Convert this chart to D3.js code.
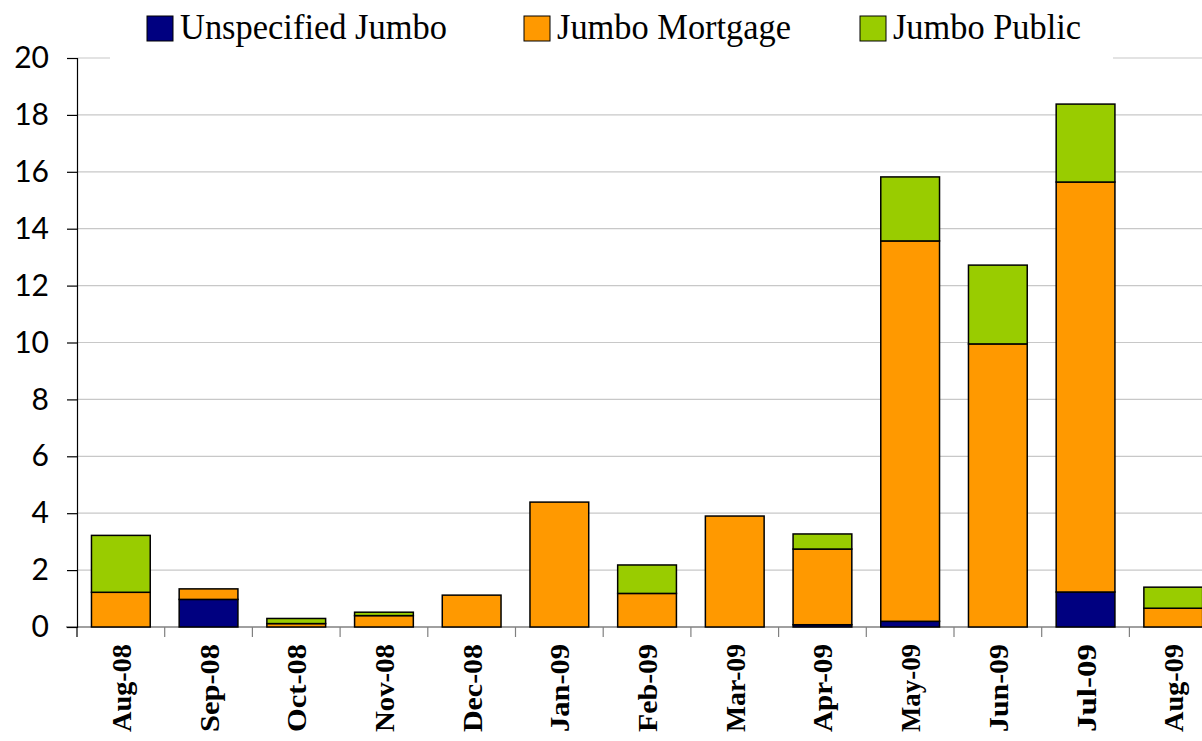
<!DOCTYPE html>
<html>
<head>
<meta charset="utf-8">
<script src="https://cdn.jsdelivr.net/npm/d3@7"></script>
<style>
  body { margin: 0; background: #fff; }
  svg { display: block; }
</style>
</head>
<body>
<div class="chartsWrapper"></div>
<script>
// months on the x axis
var months = ['Aug-08', 'Sep-08', 'Oct-08', 'Nov-08', 'Dec-08', 'Jan-09', 'Feb-09',
              'Mar-09', 'Apr-09', 'May-09', 'Jun-09', 'Jul-09', 'Aug-09'];

// stacked series, bottom to top
var unspecifiedJumbo = [0, 0.97, 0, 0, 0, 0, 0, 0, 0.08, 0.2, 0, 1.23, 0];
var jumboMortgage    = [1.22, 0.37, 0.12, 0.4, 1.12, 4.39, 1.18, 3.9, 2.66, 13.37, 9.95, 14.41, 0.66];
var jumboPublic      = [2.0, 0, 0.18, 0.12, 0, 0, 1.0, 0, 0.53, 2.25, 2.77, 2.74, 0.74];

var seriesNames = ['Unspecified Jumbo', 'Jumbo Mortgage', 'Jumbo Public'];
var seriesColors = ['#000080', '#ff9900', '#99cc00'];
var yTicks = [0, 2, 4, 6, 8, 10, 12, 14, 16, 18, 20];

var width = 1202, height = 741;

var svg = d3.select('.chartsWrapper').append('svg')
    .attr('width', width)
    .attr('height', height);

// plot runs past the right edge of the picture, like the original
var x = d3.scaleBand()
    .domain(months)
    .range([77, 77 + 13 * 87.7])
    .paddingInner(0.33)
    .paddingOuter(0.165);

var y = d3.scaleLinear()
    .domain([0, 20])
    .range([627, 58]);

var table = months.map(function(m, i) {
  return {month: m, u: unspecifiedJumbo[i], m: jumboMortgage[i], p: jumboPublic[i]};
});
var stack = d3.stack().keys(['u', 'm', 'p'])(table);

// gridlines
svg.append('g').selectAll('line')
  .data(yTicks.filter(function(d) { return d > 0; }))
  .enter().append('line')
    .attr('x1', 77).attr('x2', width)
    .attr('y1', function(d) { return y(d); })
    .attr('y2', function(d) { return y(d); })
    .style('stroke', '#c8c8c8')
    .style('stroke-width', 1.2);

// x axis (gray) with boundary ticks
var xAxisG = svg.append('g');
xAxisG.append('line')
  .attr('x1', 66).attr('x2', width)
  .attr('y1', y(0)).attr('y2', y(0))
  .style('stroke', '#808080').style('stroke-width', 1.5);
xAxisG.selectAll('.xt')
  .data(months)
  .enter().append('line')
    .attr('class', 'xt')
    .attr('x1', function(d) { return x(d) - x.step() * x.paddingInner() / 2; })
    .attr('x2', function(d) { return x(d) - x.step() * x.paddingInner() / 2; })
    .attr('y1', y(0)).attr('y2', y(0) + 10)
    .style('stroke', function(d, i) { return i === 0 ? '#000' : '#808080'; })
    .style('stroke-width', 1.2);

// bars
svg.append('g').selectAll('g')
  .data(stack)
  .enter().append('g')
    .style('fill', function(d, i) { return seriesColors[i]; })
  .selectAll('rect')
  .data(function(d) { return d.filter(function(s) { return s[1] - s[0] > 0; }); })
  .enter().append('rect')
    .attr('x', function(d) { return x(d.data.month); })
    .attr('width', x.bandwidth())
    .attr('y', function(d) { return y(d[1]); })
    .attr('height', function(d) { return y(d[0]) - y(d[1]); })
    .style('stroke', '#000')
    .style('stroke-width', 1.5);

// y axis
var yAxis = d3.axisLeft(y).tickValues(yTicks).tickSize(10).tickPadding(18);
var yG = svg.append('g')
  .attr('transform', 'translate(77,0)')
  .call(yAxis);
yG.select('.domain').style('stroke', '#000').style('stroke-width', 1.2);
yG.selectAll('.tick line').style('stroke', '#000').style('stroke-width', 1.2);
yG.selectAll('.tick text')
  .style('font-family', 'Lato, "DejaVu Sans", sans-serif')
  .style('font-size', '30px')
  .style('fill', '#000');

// month labels, rotated
svg.append('g').selectAll('text')
  .data(months)
  .enter().append('text')
    .attr('transform', function(d) {
      return 'translate(' + (x(d) + x.bandwidth() / 2 + 10) + ',644) rotate(-90)';
    })
    .attr('text-anchor', 'end')
    .style('font-family', '"Liberation Serif", "Times New Roman", serif')
    .style('font-weight', 'bold')
    .style('font-size', '27px')
    .attr('textLength', 88)
    .attr('lengthAdjust', 'spacingAndGlyphs')
    .text(function(d) { return d; });

// legend (white box hides the top gridline)
var legend = svg.append('g');
legend.append('rect')
  .attr('x', 110).attr('y', 0).attr('width', 1003).attr('height', 60)
  .style('fill', '#fff');
var legendX = [147, 524, 860];
var legendLen = [267, 234, 188];
var items = legend.selectAll('.item')
  .data(seriesNames)
  .enter().append('g')
    .attr('class', 'item')
    .attr('transform', function(d, i) { return 'translate(' + legendX[i] + ',0)'; });
items.append('rect')
  .attr('x', 0).attr('y', 16).attr('width', 26).attr('height', 25)
  .style('fill', function(d, i) { return seriesColors[i]; })
  .style('stroke', '#000').style('stroke-width', 1);
items.append('text')
  .attr('x', 33).attr('y', 39)
  .style('font-family', '"Liberation Serif", "Times New Roman", serif')
  .style('font-size', '35px')
  .attr('textLength', function(d, i) { return legendLen[i]; })
  .attr('lengthAdjust', 'spacingAndGlyphs')
  .text(function(d) { return d; });
</script>
</body>
</html>
